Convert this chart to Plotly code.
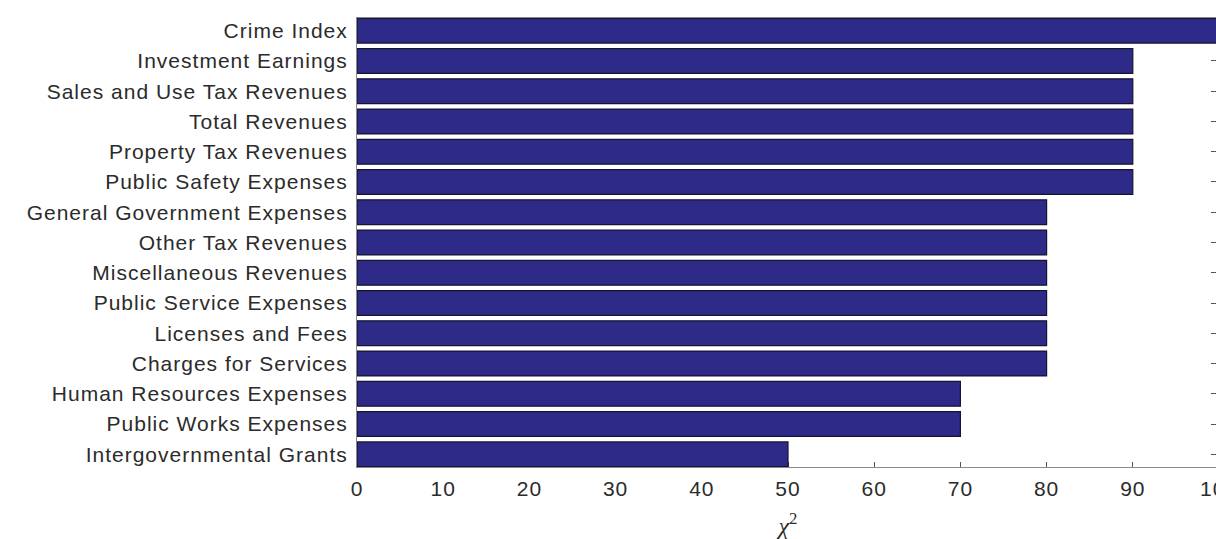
import plotly.graph_objects as go

categories = [
    "Crime Index", "Investment Earnings", "Sales and Use Tax Revenues",
    "Total Revenues", "Property Tax Revenues", "Public Safety Expenses",
    "General Government Expenses", "Other Tax Revenues", "Miscellaneous Revenues",
    "Public Service Expenses", "Licenses and Fees", "Charges for Services",
    "Human Resources Expenses", "Public Works Expenses", "Intergovernmental Grants",
]
values = [100, 90, 90, 90, 90, 90, 80, 80, 80, 80, 80, 80, 70, 70, 50]
x_ticks = [0, 10, 20, 30, 40, 50, 60, 70, 80, 90, 100]

n = len(categories)
ypos = list(range(n - 1, -1, -1))  # first category at top
bw = 0.82

fig = go.Figure(go.Bar(
    x=values, y=ypos, orientation="h", width=bw,
    marker=dict(color="#2E2A88", line=dict(color="#151530", width=1.2)),
    hoverinfo="x+text", text=categories, textposition="none",
))

fnt = dict(family="Liberation Sans, Arial, sans-serif", size=21, color="#2b2b2b")
fig.update_layout(
    width=1222, height=539,
    margin=dict(l=357, r=3, t=18, b=72, autoexpand=False),
    plot_bgcolor="white", paper_bgcolor="white",
    showlegend=False, font=fnt,
    xaxis=dict(range=[0, 100], tickvals=x_ticks, ticktext=[str(v) for v in x_ticks],
               ticks="inside", ticklen=5, tickcolor="#555", showline=True,
               linecolor="#8a8a8a", linewidth=1, mirror=True, showgrid=False,
               zeroline=False, layer="below traces", tickfont=fnt, ticklabelstandoff=3,
               ticklabeloverflow="allow", automargin=False,
               title=dict(text="<i>χ</i><sup>2</sup>",
                          font=dict(family="Liberation Serif, serif", size=24, color="#2b2b2b"),
                          standoff=18)),
    yaxis=dict(range=[-bw / 2 - 0.01, n - 1 + bw / 2 + 0.01], tickvals=ypos, ticktext=categories,
               ticks="inside", ticklen=8, tickcolor="#555", showline=True,
               linecolor="#8a8a8a", linewidth=1, mirror="ticks", showgrid=False,
               zeroline=False, layer="below traces", tickfont=fnt, ticklabelstandoff=4,
               automargin=False),
)

post = (
    "document.body.style.margin='0';document.body.style.overflow='hidden';"
    "document.documentElement.style.overflow='hidden';"
    "document.querySelectorAll('.xtick text, .ytick text').forEach(function(t){t.style.letterSpacing='1px';});"
)
fig.write_html("out.html", config={"displayModeBar": False}, post_script=post)
